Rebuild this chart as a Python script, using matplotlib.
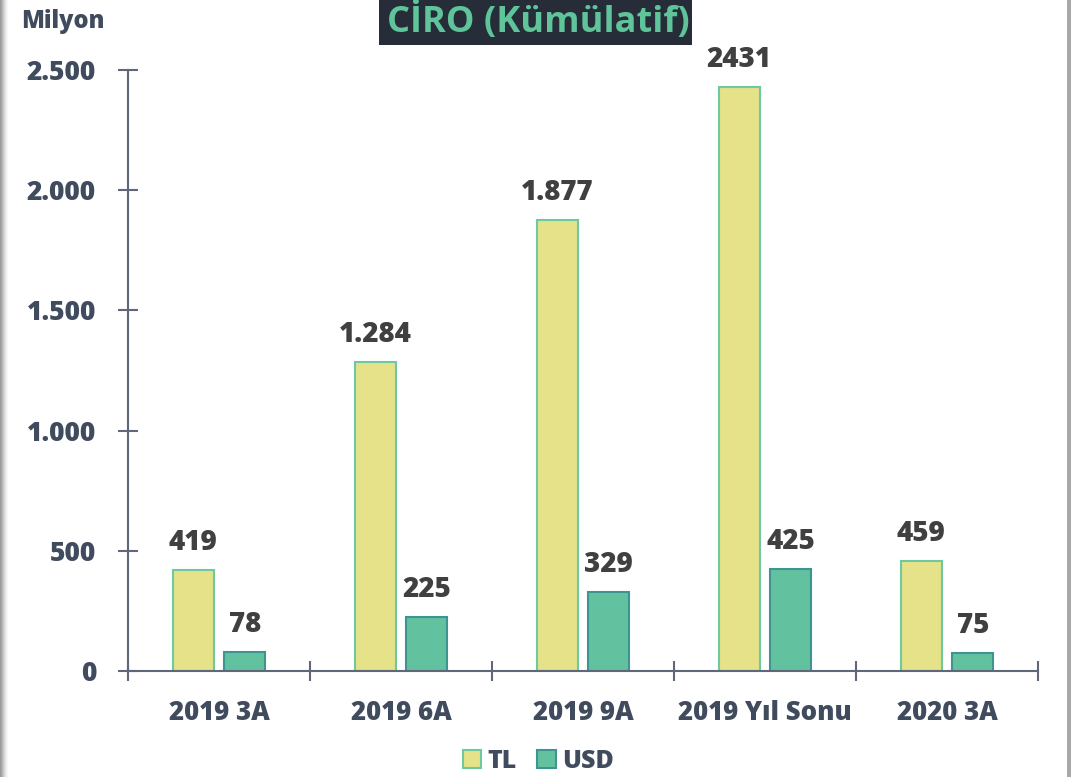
import numpy as np
import matplotlib.pyplot as plt
from matplotlib.patches import Rectangle

categories = ['2019 3A', '2019 6A', '2019 9A', '2019 Yıl Sonu', '2020 3A']
tl_values = [419, 1284, 1877, 2431, 459]
usd_values = [78, 225, 329, 425, 75]
tl_labels = ['419', '1.284', '1.877', '2431', '459']
usd_labels = ['78', '225', '329', '425', '75']
y_ticks = [0, 500, 1000, 1500, 2000, 2500]
y_tick_labels = ['0', '500', '1.000', '1.500', '2.000', '2.500']

plt.rcParams['font.family'] = ['Open Sans', 'DejaVu Sans']
W = 800

tick_color = '#404b5e'
value_color = '#404040'
axis_color = '#5f6878'

fig = plt.figure(figsize=(10.71, 7.77), dpi=100)
ax = fig.add_axes([128 / 1071, 106 / 777, 910 / 1071, 601 / 777])

x = np.arange(len(categories))
w = 0.225
off = 0.142
ax.bar(x - off, tl_values, w, color='#e5e28a', edgecolor='#6cc9a0', linewidth=1.5, zorder=2)
ax.bar(x + off, usd_values, w, color='#62c2a0', edgecolor='#3f9391', linewidth=1.5, zorder=2)

for i in range(len(categories)):
    ax.annotate(tl_labels[i], (x[i] - off, tl_values[i]), xytext=(0, 13), textcoords='offset pixels',
                ha='center', va='bottom', fontsize=20, fontweight=W, color=value_color)
    ax.annotate(usd_labels[i], (x[i] + off, usd_values[i]), xytext=(0, 13), textcoords='offset pixels',
                ha='center', va='bottom', fontsize=20, fontweight=W, color=value_color)

ax.set_xlim(-0.5, len(categories) - 0.5)
ax.set_ylim(0, 2500)
ax.set_yticks(y_ticks)
ax.set_yticklabels(y_tick_labels)
ax.set_xticks(np.arange(-0.5, len(categories), 1.0))
ax.set_xticklabels([])
ax.set_xticks(x, minor=True)
ax.set_xticklabels(categories, minor=True)

for s in ['top', 'right']:
    ax.spines[s].set_visible(False)
for s in ['left', 'bottom']:
    ax.spines[s].set_color(axis_color)
    ax.spines[s].set_linewidth(1.5)
ax.tick_params(axis='both', which='major', direction='inout', length=14, width=1.5, color=axis_color,
               labelsize=19, labelcolor=tick_color, pad=16)
ax.tick_params(axis='x', which='minor', length=0, labelsize=18.5, labelcolor=tick_color, pad=21)
for lab in ax.get_xticklabels(minor=True) + ax.get_yticklabels():
    lab.set_fontweight(W)

# "Milyon" unit label
fig.text(21 / 1071, 1 - 21 / 777, 'Milyon', fontsize=17, fontweight=W, color=tick_color,
         ha='left', va='center')

# title box
fig.patches.append(Rectangle((379 / 1071, 1 - 45 / 777), 313 / 1071, 45 / 777, transform=fig.transFigure,
                             facecolor='#262d38', edgecolor='none'))
fig.text(538 / 1071, 1 - 32 / 777, 'CİRO (Kümülatif)', fontsize=26, fontweight=700, color='#5fc49a',
         ha='center', va='baseline')

# side frame
for i, c in enumerate(['#9a9a9a', '#a8a8a8', '#b8b8b8', '#c8c8c8', '#d8d8d8', '#e6e6e6', '#f0f0f0', '#f8f8f8']):
    fig.patches.append(Rectangle((i / 1071, 0), 1.3 / 1071, 1, transform=fig.transFigure,
                                 facecolor=c, edgecolor='none'))
fig.patches.append(Rectangle((1067 / 1071, 0), 4 / 1071, 1, transform=fig.transFigure,
                             facecolor='#a8a8a8', edgecolor='none'))

# legend
h1 = Rectangle((0, 0), 1, 1, facecolor='#e5e28a', edgecolor='#6cc9a0', linewidth=1.5)
h2 = Rectangle((0, 0), 1, 1, facecolor='#62c2a0', edgecolor='#3f9391', linewidth=1.5)
leg = fig.legend([h1, h2], ['TL', 'USD'], loc='center', bbox_to_anchor=(538 / 1071, 1 - 761 / 777),
                 ncol=2, frameon=False, handlelength=0.75, handleheight=0.75, handletextpad=0.25,
                 columnspacing=0.8, prop={'size': 18, 'weight': W})
for t in leg.get_texts():
    t.set_color(tick_color)

fig.savefig('out.png', dpi=100)
